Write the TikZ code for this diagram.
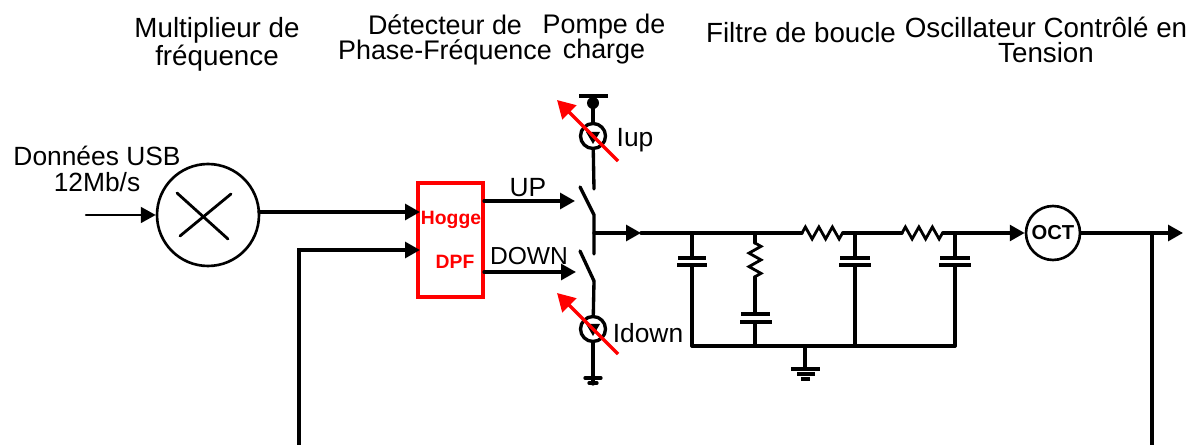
\documentclass[tikz,border=0pt]{standalone}
\usepackage{fontspec}
\setmainfont{Liberation Sans}
\usetikzlibrary{arrows.meta,decorations.pathmorphing}

\tikzset{
	wire/.style = {line width = 1.9pt, line cap = round},
	thin wire/.style = {line width = 1.6pt, line cap = round},
	sig/.style = {wire, -{Triangle[length = 8.5pt, width = 9pt]}},
	tune/.style = {red, line width = 2pt, -{Triangle[length = 10pt, width = 11pt]}},
	plate/.style = {line width = 1.9pt},
	zig/.style = {thin wire, decorate, decoration = {zigzag, amplitude = 0.12cm, segment length = 0.27cm}},
	title/.style = {align = center, font = \fontsize{15.3}{14.5}\selectfont},
	bigtitle/.style = {align = center, font = \fontsize{15.8}{14.7}\selectfont},
	label/.style = {font = \fontsize{15}{18}\selectfont},
	source/.style = {draw, circle, line width = 1.9pt, minimum size = 0.5cm, inner sep = 0pt},
	redtext/.style = {red, font = \bfseries\fontsize{11}{13}\selectfont}
}

\begin{document}
\begin{tikzpicture} [x = 0.02cm, y = -0.02cm]
	\useasboundingbox (0,0) rectangle (1189,445);
	% titles
	\node [bigtitle] (ttlmult) at (217,44) {Multiplieur de\\fréquence};
	\node [title] (ttldpf) at (445,40) {Détecteur de\\Phase-Fréquence};
	\node [title] (ttlcp) at (604,39) {Pompe de\\charge};
	\node [bigtitle] (ttlfilt) at (801,33) {Filtre de boucle};
	\node [bigtitle] (ttloct) at (1046,40) {Oscillateur Contrôlé en\\Tension};
	% multiplier
	\node [label, align = center, font = \fontsize{15}{15}\selectfont] (data) at (97,169) {Données USB\\12Mb/s};
	\node [draw, circle, line width = 1.5pt, minimum size = 2.04cm, inner sep = 0pt] (mult) at (208,215) {};
	\draw [thin wire] (177,193) -- (228,239);
	\draw [thin wire] (180,236) -- (231,194);
	\coordinate (datain) at (86,215);
	\draw [sig, line width = 1.4pt] (datain) -- (mult);
	% dpf block
	\node [draw = red, line width = 1.9pt, minimum width = 1.3cm, minimum height = 2.28cm, inner sep = 0pt] (dpf) at (450.5,240) {};
	\node [redtext] (hogge) at (451,220) {Hogge};
	\node [redtext] (dpftxt) at (455,262) {DPF};
	\coordinate (multout) at (259,212);
	\coordinate (dpfa) at (420,212);
	\coordinate (dpfb) at (420,250);
	\coordinate (fbleft) at (299,445);
	\coordinate (fbcorner) at (299,250);
	\draw [sig] (multout) -- (dpfa);
	\draw [sig] (fbleft) -- (fbcorner) -- (dpfb);
	% up and down
	\coordinate (upa) at (484,201);
	\coordinate (upb) at (575,201);
	\coordinate (dna) at (484,272);
	\coordinate (dnb) at (576,272);
	\draw [sig] (upa) -- (upb);
	\draw [sig] (dna) -- (dnb);
	\node [label] (uptxt) at (528,188) {UP};
	\node [label, font = \fontsize{14}{16}\selectfont] (dntxt) at (529,256) {DOWN};
	% charge pump
	\node [source] (iup) at (593,136) {};
	\node [source] (idn) at (593,329) {};
	\coordinate (vdd) at (593,96);
	\coordinate (swtop) at (594,189);
	\coordinate (swlo) at (594,281);
	\coordinate (gnda) at (593,384);
	\draw [wire] (vdd) -- (iup);
	\draw [wire] (iup) -- (swtop);
	\draw [wire] (swlo) -- (idn);
	\draw [wire] (idn) -- (gnda);
	\draw [line width = 1.9pt] (579,96) -- (608,96);
	\fill (593,103) circle (6);
	\fill (586,132) -- (600,132) -- (593,144) -- cycle;
	\fill (586,324) -- (600,324) -- (593,336) -- cycle;
	\draw [wire] (580,187) -- (594,215) -- (594,254);
	\draw [wire] (580,251) -- (594,281);
	\draw [wire] (585,378) -- (601,378);
	\draw [wire] (589,383) -- (597,383);
	\draw [tune] (618,161) -- (557,100);
	\draw [tune] (618,354) -- (557,293);
	\node [label] (iuptxt) at (635,140) {Iup};
	\node [label] (idntxt) at (648,333) {Idown};
	% loop filter
	\coordinate (cpout) at (594,233);
	\coordinate (cpmid) at (641,233);
	\coordinate (ra) at (802,233);
	\coordinate (rb) at (843,233);
	\coordinate (rc) at (902,233);
	\coordinate (rd) at (943,233);
	\node [draw, circle, line width = 1.5pt, minimum size = 1.08cm, inner sep = 0pt, font = \bfseries\fontsize{11.5}{13}\selectfont] (oct) at (1053,233) {OCT};
	\draw [sig] (cpout) -- (cpmid);
	\draw [wire] (cpmid) -- (ra);
	\draw [zig] (ra) -- (rb);
	\draw [wire] (rb) -- (rc);
	\draw [zig] (rc) -- (rd);
	\draw [sig] (rd) -- (oct);
	\foreach \x/\w in {692/15, 855/16, 955/16} {
		\draw [wire] (\x,233) -- (\x,258);
		\draw [plate] (\x-\w+1,258) -- (\x+\w-1,258);
		\draw [plate] (\x-\w,265) -- (\x+\w,265);
		\draw [wire] (\x,265) -- (\x,346);
	}
	\draw [wire] (755,233) -- (755,243);
	\draw [zig] (755,243) -- (755,277);
	\draw [wire] (755,277) -- (755,314);
	\draw [plate] (741,314) -- (770,314);
	\draw [plate] (740,322) -- (772,322);
	\draw [wire] (755,322) -- (755,346);
	\draw [wire] (692,346) -- (955,346);
	\draw [wire] (805,346) -- (805,369);
	\draw [plate] (791,369) -- (820,369);
	\draw [plate] (797,374) -- (815,374);
	\draw [plate] (801,379) -- (810,379);
	% oscillator output
	\coordinate (out) at (1183,233);
	\coordinate (fbtap) at (1152,233);
	\coordinate (fbright) at (1152,445);
	\draw [sig] (oct) -- (out);
	\draw [wire] (fbtap) -- (fbright);
\end{tikzpicture}
\end{document}
